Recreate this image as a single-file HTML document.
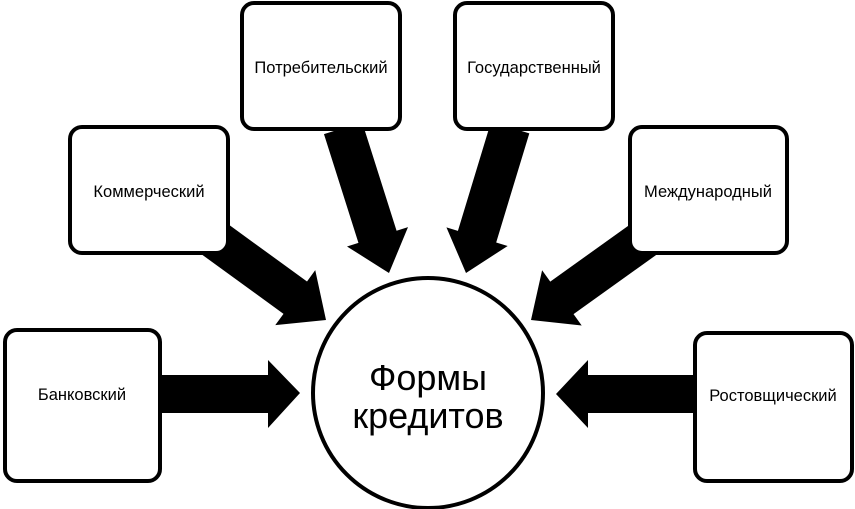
<!DOCTYPE html>
<html><head><meta charset="utf-8"><style>
body{margin:0;background:#fff;}
svg{display:block}
text{font-family:"Liberation Sans","DejaVu Sans",sans-serif;fill:#000}
</style></head><body>
<svg width="855" height="509" viewBox="0 0 855 509">
<g fill="#000">
<polygon points="162,375 268,375 268,360 300,393 268,428 268,413 162,413"/>
<polygon points="693,375 588,375 588,360 556,394 588,428 588,413 693,413"/>
<polygon transform="translate(326,320) rotate(36)" points="-140,-20 -38,-20 -38,-34 0,0 -38,34 -38,20 -140,20"/>
<polygon transform="translate(389,273) rotate(72.4)" points="-152,-20 -38,-20 -38,-32 0,0 -38,32 -38,20 -152,20"/>
<polygon transform="translate(466,273) rotate(106.9)" points="-152,-20 -38,-20 -38,-32 0,0 -38,32 -38,20 -152,20"/>
<polygon transform="translate(531,320) rotate(144.4)" points="-140,-20 -38,-20 -38,-34 0,0 -38,34 -38,20 -140,20"/>
</g>
<g fill="#fff" stroke="#000" stroke-width="4">
<rect x="5" y="330" width="155" height="151" rx="12"/>
<rect x="70" y="127" width="158" height="126" rx="12"/>
<rect x="242" y="3" width="158" height="126" rx="12"/>
<rect x="455" y="3" width="158" height="126" rx="12"/>
<rect x="630" y="127" width="157" height="126" rx="12"/>
<rect x="695" y="333" width="157" height="148" rx="12"/>
<circle cx="428" cy="393" r="115"/>
</g>
<g font-size="16.5" text-anchor="middle">
<text x="82" y="400">Банковский</text>
<text x="149" y="197">Коммерческий</text>
<text x="321" y="73">Потребительский</text>
<text x="534" y="73">Государственный</text>
<text x="708" y="197">Международный</text>
<text x="773" y="401">Ростовщический</text>
</g>
<g font-size="36" text-anchor="middle">
<text x="428" y="390">Формы</text>
<text x="428" y="428">кредитов</text>
</g>
</svg>
</body></html>
